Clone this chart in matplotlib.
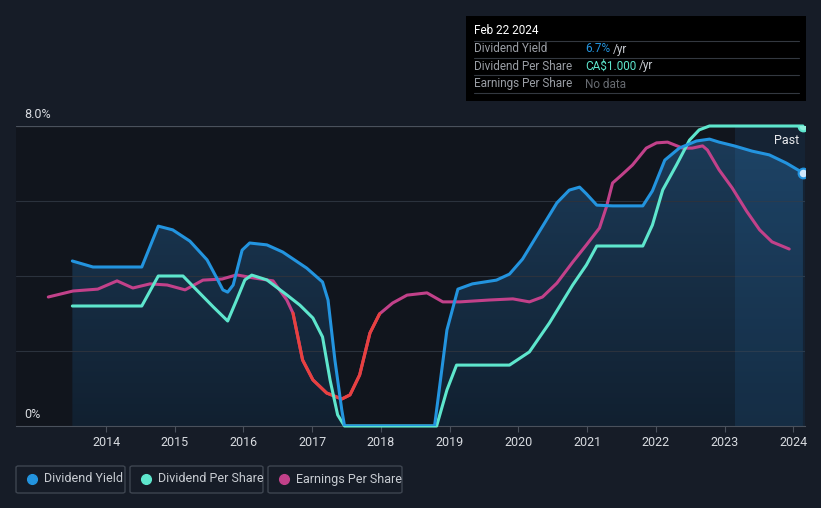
import numpy as np
import matplotlib
matplotlib.use("Agg")
import matplotlib.pyplot as plt
from matplotlib.colors import LinearSegmentedColormap
from matplotlib.patches import Rectangle, FancyBboxPatch

plt.rcParams['font.family'] = ['Roboto', 'DejaVu Sans']
plt.rcParams['lines.solid_joinstyle'] = 'round'
plt.rcParams['lines.solid_capstyle'] = 'round'

# Dividend yield (% )
dy_t = [2013.51, 2013.81, 2014.52, 2014.76, 2014.97, 2015.22, 2015.47, 2015.61, 2015.70,
        2015.77, 2015.85, 2015.98, 2016.09, 2016.34, 2016.57, 2016.92, 2017.15, 2017.23,
        2017.33, 2017.43, 2017.47, 2018.78, 2018.96, 2019.12, 2019.33, 2019.68, 2019.87,
        2020.06, 2020.31, 2020.56, 2020.74, 2020.89, 2020.99, 2021.14, 2021.37, 2021.81,
        2021.95, 2022.13, 2022.34, 2022.59, 2022.78, 2022.92, 2023.14, 2023.40, 2023.65,
        2023.90, 2024.14]
dy_v = [4.40, 4.24, 4.24, 5.33, 5.23, 4.93, 4.43, 3.95, 3.63,
        3.57, 3.76, 4.69, 4.88, 4.83, 4.64, 4.21, 3.84, 3.36,
        1.76, 0.43, 0.0, 0.0, 2.56, 3.65, 3.79, 3.89, 4.05,
        4.45, 5.20, 5.95, 6.29, 6.37, 6.19, 5.89, 5.87, 5.87,
        6.27, 7.09, 7.41, 7.60, 7.65, 7.57, 7.47, 7.33, 7.23,
        7.01, 6.75]

# Dividend per share (CA$)
dps_t = [2013.51, 2014.52, 2014.76, 2015.12, 2015.32, 2015.56, 2015.77, 2015.90, 2016.02,
         2016.12, 2016.34, 2016.63, 2016.82, 2017.01, 2017.15, 2017.26, 2017.37, 2017.47,
         2018.81, 2018.96, 2019.10, 2019.87, 2020.16, 2020.45, 2020.79, 2020.99, 2021.14,
         2021.81, 2021.95, 2022.10, 2022.30, 2022.49, 2022.63, 2022.78, 2024.14]
dps_v = [0.400, 0.400, 0.500, 0.500, 0.453, 0.397, 0.350, 0.420, 0.487,
         0.503, 0.487, 0.437, 0.403, 0.360, 0.297, 0.153, 0.037, 0.0,
         0.0, 0.120, 0.203, 0.203, 0.247, 0.343, 0.470, 0.537, 0.600,
         0.600, 0.670, 0.787, 0.870, 0.953, 0.987, 1.000, 1.000]

# Earnings per share (drawn on the chart's relative scale)
eps_t = [2013.16, 2013.52, 2013.88, 2014.16, 2014.39, 2014.64, 2014.89, 2015.15, 2015.41,
         2015.69, 2015.90, 2016.14, 2016.43, 2016.63, 2016.72, 2016.86, 2017.01, 2017.21,
         2017.43, 2017.55, 2017.69, 2017.84, 2017.98, 2018.17, 2018.38, 2018.67, 2018.90,
         2019.15, 2019.58, 2019.92, 2020.16, 2020.35, 2020.56, 2020.79, 2020.99, 2021.18,
         2021.28, 2021.37, 2021.50, 2021.66, 2021.86, 2022.01, 2022.17, 2022.39, 2022.53,
         2022.68, 2022.75, 2022.92, 2023.11, 2023.32, 2023.51, 2023.69, 2023.94]
eps_v = [3.44, 3.60, 3.65, 3.87, 3.68, 3.79, 3.76, 3.63, 3.89,
         3.92, 4.03, 3.95, 3.87, 3.36, 3.01, 1.76, 1.23, 0.88,
         0.72, 0.83, 1.36, 2.48, 2.99, 3.28, 3.49, 3.55, 3.31,
         3.31, 3.36, 3.39, 3.31, 3.44, 3.81, 4.37, 4.83, 5.28,
         5.84, 6.48, 6.69, 6.96, 7.41, 7.55, 7.57, 7.41, 7.41,
         7.47, 7.36, 6.83, 6.35, 5.73, 5.23, 4.91, 4.72]

years = list(range(2014, 2025))
PAST_START = 2023.15
DPS_SCALE = 8.0  # CA$1.000 sits on the 8.0% line

BG = "#161c27"
W, H = 821, 508

fig = plt.figure(figsize=(W / 100, H / 100), dpi=100, facecolor=BG)
ax = fig.add_axes([16 / W, 1 - 426 / H, 789 / W, 300 / H])
ax.set_facecolor("#11151d")

x0, x1 = 2012.69, 2024.17
dy_t = np.array(dy_t)
dy_v = np.array(dy_v)

# gradient fill under yield line
poly = ax.fill_between(dy_t, dy_v, 0, color="none", lw=0)
path = poly.get_paths()[0]
cmap = LinearSegmentedColormap.from_list("g", ["#112030", "#1c3c5a"])
grad = np.linspace(0, 1, 256).reshape(-1, 1)
im = ax.imshow(grad, extent=[x0, x1, 0, 8], aspect="auto", cmap=cmap,
               origin="lower", zorder=1)
im.set_clip_path(path, transform=ax.transData)

ax.axvspan(PAST_START, x1, color="#2a72b0", alpha=0.16, lw=0, zorder=1.5)

for g in [2, 4, 6]:
    ax.axhline(g, color="#2b323d", lw=0.8, zorder=1.2)
ax.axhline(8, color="#4a515c", lw=0.9, zorder=1.2)

eps_t = np.array(eps_t)
eps_v = np.array(eps_v)
ax.plot(eps_t, eps_v, color="#c2418a", lw=2.2, zorder=3)
red = np.ma.masked_where(eps_v > 3.01, eps_v)
ax.plot(eps_t, red, color="#e8413e", lw=2.2, zorder=3.1)

dps_plot = np.array(dps_v) * DPS_SCALE
ax.plot(dps_t, dps_plot, color="#5ee6cd", lw=2.2, zorder=4, clip_on=False)
ax.plot(dy_t, dy_v, color="#2394df", lw=2.2, zorder=5)

ax.plot([dps_t[-1]], [dps_plot[-1]], "o", ms=7, mfc="#8ff0dc", mec="#5ee6cd",
        mew=1.5, zorder=6)
ax.plot([dy_t[-1]], [dy_v[-1]], "o", ms=7, mfc="#cfe6fa", mec="#2394df",
        mew=1.5, zorder=6)

ax.set_xlim(x0, x1)
ax.set_ylim(0, 8)
ax.set_yticks([])
ax.set_xticks(years)
ax.set_xticklabels([str(y) for y in years], color="#d8dbe0", fontsize=9)
ax.tick_params(axis="x", length=4, color="#4a515c", pad=3)
for s in ["top", "left", "right"]:
    ax.spines[s].set_visible(False)
ax.spines["bottom"].set_color("#4a515c")

ax.text(2023.9, 7.6, "Past", color="#e8eaed", fontsize=9, ha="center", va="center",
        zorder=7)


def px(x, y):
    return x / W, 1 - y / H


fig.text(*px(24, 114), "8.0%", color="#d8dbe0", fontsize=9, va="center")
fig.text(*px(24, 414), "0%", color="#d8dbe0", fontsize=9, va="center")

# tooltip box
fig.patches.append(Rectangle(px(466, 101), 340 / W, 85 / H, transform=fig.transFigure,
                             facecolor="#000000", edgecolor="none", zorder=10))
fig.text(*px(474, 31), "Feb 22 2024", color="#ffffff", fontsize=8.5, va="center", zorder=11)
rows = [("Dividend Yield", "6.7%", "#2394df", 49),
        ("Dividend Per Share", "CA$1.000", "#5ee6cd", 66),
        ("Earnings Per Share", "No data", "#666a70", 84)]
for lab, val, col, yy in rows:
    fig.text(*px(474, yy), lab, color="#9a9ea5", fontsize=8.5, va="center", zorder=11)
    t = fig.text(*px(585, yy), val, color=col, fontsize=8.5, va="center", zorder=11)
    if val != "No data":
        fig.canvas.draw()
        bb = t.get_window_extent()
        fig.text((bb.x1 + 3) / W, 1 - yy / H, "/yr", color="#c8ccd2", fontsize=8.5,
                 va="center", zorder=11)
for yy in [41, 58, 75, 93]:
    fig.lines.append(plt.Line2D([474 / W, 799 / W], [1 - yy / H] * 2,
                                transform=fig.transFigure, color="#333840", lw=0.8,
                                zorder=11))

# legend boxes
legend = [("Dividend Yield", "#2394df", 16, 125),
          ("Dividend Per Share", "#5ee6cd", 130, 263),
          ("Earnings Per Share", "#c2418a", 268, 402)]
for lab, col, xa, xb in legend:
    fig.patches.append(FancyBboxPatch(px(xa, 493), (xb - xa) / W, 27 / H,
                                      boxstyle="round,pad=0,rounding_size=0.003",
                                      transform=fig.transFigure, facecolor="none",
                                      edgecolor="#3e4550", lw=1))
    fig.lines.append(plt.Line2D([(xa + 16) / W], [1 - 479 / H], marker="o", ms=7,
                                color=col, transform=fig.transFigure))
    fig.text(*px(xa + 28, 479), lab, color="#c8ccd2", fontsize=9, va="center")

fig.savefig("out.png", dpi=100, facecolor=BG)
